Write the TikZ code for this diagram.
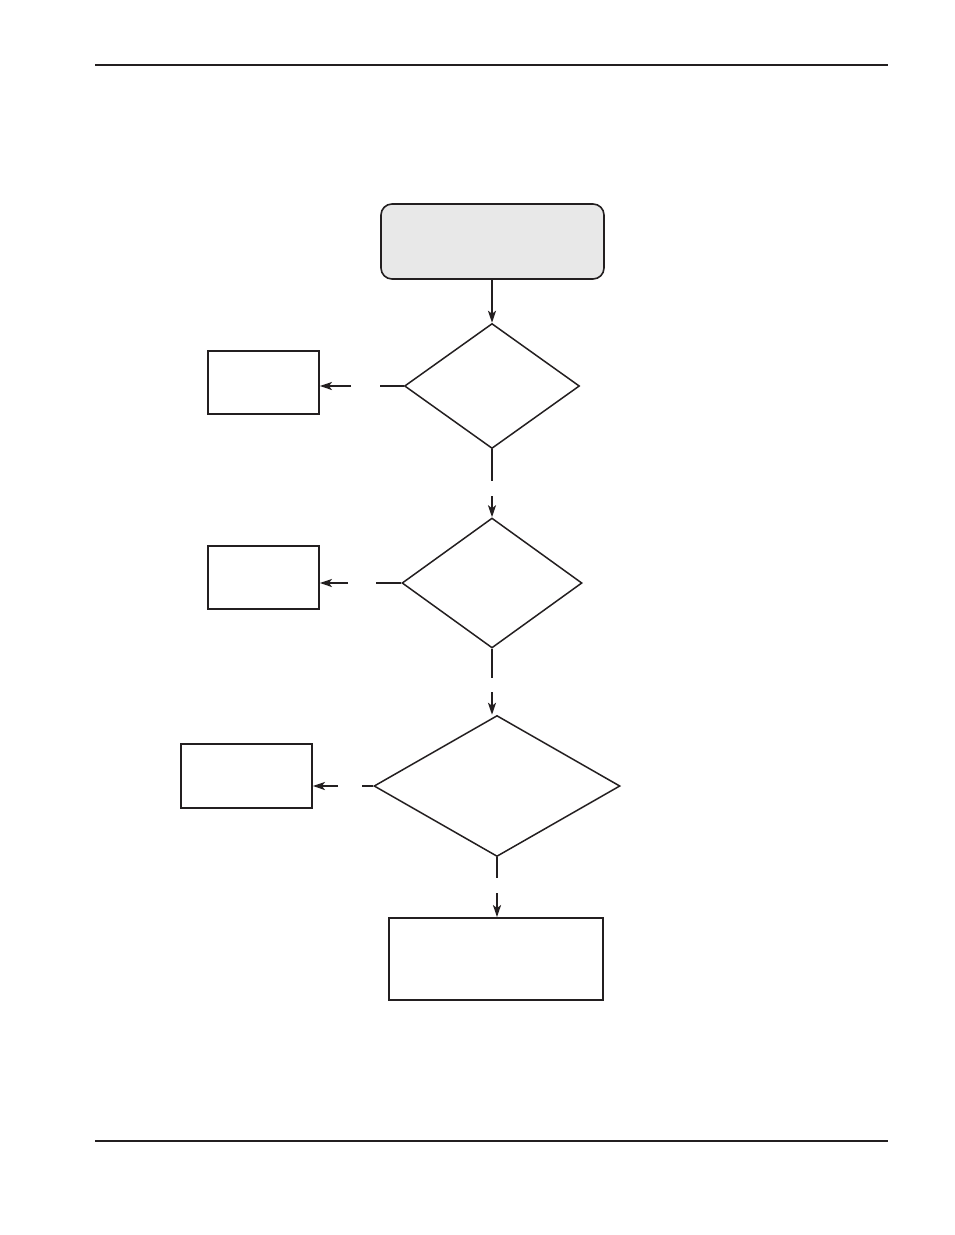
\documentclass[tikz,border=0pt]{standalone}
\usetikzlibrary{arrows.meta, shapes.geometric}
\definecolor{inkgray}{HTML}{231F20}
\definecolor{startfill}{HTML}{E8E8E8}

\begin{document}
\begin{tikzpicture}[
  x=1pt, y=-1pt,
  every node/.style={inner sep=0pt},
  startbox/.style={draw=inkgray, fill=startfill, rounded corners=11pt,
    line width=1.6pt, minimum width=223pt, minimum height=75pt},
  actbox/.style={draw=inkgray, fill=white, line width=1.8pt},
  decide/.style={diamond, draw=inkgray, line width=1.5pt},
  flow/.style={draw=inkgray, line width=2pt},
  flowarr/.style={flow, -{Stealth[length=12pt, width=8pt, inset=3pt]}},
]

\useasboundingbox (0,0) rectangle (954,1235);

% Page rules
\draw[inkgray, line width=1.2pt] (95,65) -- (888,65);
\draw[inkgray, line width=2.4pt] (95,1141) -- (888,1141);

% Start
\node[startbox] (start) at (492.5,241.5) {};

% Decisions
\node[decide, minimum width=175pt, minimum height=125pt] (dec1) at (492,386) {};
\node[decide, minimum width=180pt, minimum height=130pt] (dec2) at (492,583) {};
\node[decide, minimum width=246pt, minimum height=141pt] (dec3) at (497,786) {};

% Side actions
\node[actbox, minimum width=111pt, minimum height=63pt] (act1) at (263.5,382.5) {};
\node[actbox, minimum width=111pt, minimum height=63pt] (act2) at (263.5,577.5) {};
\node[actbox, minimum width=131pt, minimum height=64pt] (act3) at (246.5,776) {};

% End action
\node[actbox, minimum width=214pt, minimum height=82pt] (finish) at (496,959) {};

% Gap ends of the broken connectors
\coordinate (g1a) at (380,386);  \coordinate (g1b) at (351,386);
\coordinate (g2a) at (376,583);  \coordinate (g2b) at (348,583);
\coordinate (g3a) at (362,786);  \coordinate (g3b) at (338,786);
\coordinate (v1a) at (492,481);  \coordinate (v1b) at (492,496);
\coordinate (v2a) at (492,678);  \coordinate (v2b) at (492,692);
\coordinate (v3a) at (497,878);  \coordinate (v3b) at (497,893);

% Connectors
\draw[flowarr] (start.south -| dec1.north) -- (dec1.north);

\draw[flow] (dec1.west) -- (g1a);
\draw[flowarr] (g1b) -- (g1b -| act1.east);
\draw[flow] (dec1.south) -- (v1a);
\draw[flowarr] (v1b) -- (dec2.north);

\draw[flow] (dec2.west) -- (g2a);
\draw[flowarr] (g2b) -- (g2b -| act2.east);
\draw[flow] (dec2.south) -- (v2a);
\draw[flowarr] (v2b) -- (v2b |- dec3.north);

\draw[flow] (dec3.west) -- (g3a);
\draw[flowarr] (g3b) -- (g3b -| act3.east);
\draw[flow] (dec3.south) -- (v3a);
\draw[flowarr] (v3b) -- (v3b |- finish.north);

\end{tikzpicture}
\end{document}
